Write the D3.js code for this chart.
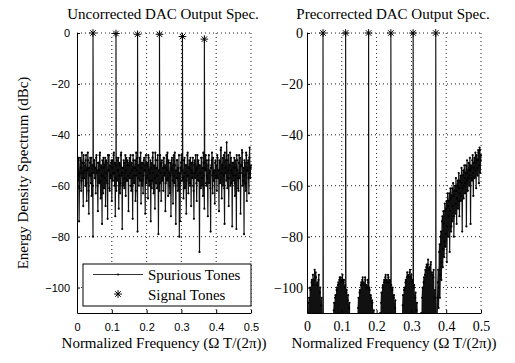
<!DOCTYPE html>
<html><head><meta charset="utf-8">
<script src="https://cdn.jsdelivr.net/npm/d3@7"></script>
<style>body{margin:0;background:#fff}</style>
</head><body><svg id="c" width="515" height="363"></svg>
<script>
// ---------- data ----------
const xTicks = [0, 0.1, 0.2, 0.3, 0.4, 0.5];
const yTicks = [0, -20, -40, -60, -80, -100];
const evenFreqs = d3.range(251).map(i => i / 500);          // 0, 0.002, ... 0.5
const oddFreqs = d3.range(250).map(i => (2 * i + 1) / 1000); // 0.001, 0.003, ... 0.499

// Uncorrected spectrum (dBc), even bins
const leftSpurEven = [
 -52,-58,-49,-74,-55,-50,-62,-47,-57,-68,-51,-54,-60,-48,-66,-53,-50,-71,-56,-49,-59,-64,-52,-80,-55,
 -50,-57,-63,-48,-54,-70,-51,-59,-47,-65,-53,-75,-56,-49,-61,-52,-68,-50,-58,-73,-54,-48,-62,-57,-51,
 -66,-50,-55,-47,-60,-72,-52,-49,-58,-54,-69,-51,-63,-48,-56,-77,-53,-50,-61,-55,-64,-49,-58,-52,-70,
 -51,-57,-48,-62,-54,-73,-50,-59,-53,-66,-47,-56,-78,-52,-60,-49,-55,-67,-51,-58,-63,-50,-54,-71,-48,
 -57,-52,-65,-49,-60,-55,-74,-51,-58,-47,-63,-53,-69,-50,-56,-61,-48,-79,-54,-59,-52,-66,-50,-57,-62,
 -49,-55,-70,-53,-58,-47,-64,-51,-60,-56,-72,-50,-54,-67,-48,-59,-52,-75,-57,-50,-62,-55,-80,-74,-53,
 -48,-58,-54,-65,-50,-61,-52,-71,-56,-47,-63,-53,-59,-49,-68,-55,-51,-60,-73,-50,-57,-54,-66,-48,-58,
 -52,-86,-55,-61,-49,-57,-64,-51,-69,-53,-48,-60,-56,-72,-50,-59,-54,-78,-52,-47,-63,-55,-58,-67,-50,
 -56,-62,-49,-54,-70,-51,-58,-45,-65,-53,-60,-48,-75,-55,-50,-43,-61,-57,-68,-52,-47,-59,-54,-76,-51,
 -58,-49,-64,-53,-77,-50,-57,-62,-48,-55,-71,-52,-46,-60,-56,-79,-51,-59,-47,-66,-54,-50,-63,-45,-57,-52
];
// Uncorrected spectrum (dBc), odd bins
const leftSpurOdd = [
 -54,-50,-56,-61,-49,-53,-58,-51,-55,-48,-57,-52,-50,-59,-54,-47,-62,-53,-51,-56,-49,-55,-60,-52,-50,
 -57,-53,-49,-55,-60,-51,-54,-48,-58,-52,-56,-50,-63,-53,-57,-49,-55,-51,-59,-48,-54,-61,-52,-56,-50,
 -53,-58,-48,-55,-51,-57,-62,-50,-54,-49,-56,-52,-59,-47,-55,-53,-60,-51,-57,-48,-54,-58,-50,-56,-52,
 -49,-55,-60,-51,-57,-48,-53,-56,-50,-62,-54,-49,-57,-52,-55,-58,-47,-53,-60,-51,-56,-49,-54,-52,-59,
 -51,-56,-48,-54,-58,-50,-53,-61,-49,-55,-52,-57,-47,-59,-53,-50,-56,-54,-62,-48,-55,-51,-58,-53,-49,
 -56,-52,-59,-48,-54,-57,-50,-55,-63,-51,-53,-49,-58,-52,-56,-47,-60,-54,-50,-57,-53,-48,-55,-59,-51,
 -54,-50,-57,-61,-49,-55,-52,-58,-48,-56,-53,-50,-60,-54,-51,-57,-49,-62,-52,-55,-48,-59,-53,-56,-50,
 -58,-52,-55,-49,-60,-53,-47,-56,-51,-54,-59,-50,-57,-52,-48,-55,-61,-53,-50,-56,-49,-58,-54,-51,-57,
 -52,-48,-57,-54,-50,-59,-46,-55,-52,-49,-56,-61,-47,-53,-58,-50,-54,-48,-57,-52,-60,-49,-55,-51,-56,
 -53,-59,-50,-56,-48,-54,-61,-51,-57,-49,-55,-52,-47,-58,-53,-50,-56,-62,-48,-54,-51,-57,-49,-55,-53
];

// Precorrected spectrum (dBc), even bins (values below -110 fall under the axis)
const rightSpurEven = [
 -125,
 -110,-116,-104,-118,-101,-115,-97,-119,-99,-114,-93,-117,-96,-115,-98,-120,-95,-116,-100,-118,-104,-114,
 -125,-125,-125,-125,-125,-125,-125,-125,-125,-125,-125,-125,-125,-125,
 -112,-117,-106,-115,-103,-119,-100,-114,-98,-118,-96,-116,-98,-115,-95,-119,-97,-114,-99,-117,-101,-116,-103,-118,-106,-115,-111,
 -125,-125,-125,-125,-125,-125,-125,-125,
 -111,-116,-104,-118,-101,-114,-98,-117,-96,-115,-99,-119,-97,-116,-100,-114,-98,-118,-101,-115,-104,-117,-106,-114,-109,-116,
 -125,-125,-125,-125,-125,-125,-125,
 -110,-116,-102,-118,-99,-114,-97,-117,-95,-115,-98,-119,-96,-116,-97,-114,-99,-118,-100,-115,-103,-117,-105,-114,-111,
 -125,-125,-125,-125,-125,-125,
 -111,-117,-103,-115,-100,-118,-97,-114,-94,-116,-96,-119,-93,-115,-95,-117,-97,-114,-99,-118,-102,-116,-106,-113,
 -125,-125,-125,-125,
 -110,-116,-100,-118,-96,-114,-93,-117,-91,-115,-89,-119,-92,-116,-90,-114,-95,-117,-93,-115,-101,-112,
 -125,
 -112,-98,-108,-86,-104,-80,-97,-74,-92,-70,-88,-67,-84,-69,-90,-63,-80,-66,-86,-61,-78,-64,-74,-59,-80,
 -62,-71,-57,-75,-60,-69,-55,-72,-58,-66,-53,-78,-56,-65,-52,-63,-55,-76,-50,-62,-54,-60,-49,-75,-53,
 -58,-48,-64,-51,-57,-47,-61,-50,-56,-46,-59,-45,-55,-48
];
// Precorrected spectrum (dBc), odd bins
const rightSpurOdd = [
 -125,
 -113,-106,-116,-100,-114,-98,-117,-95,-115,-97,-118,-94,-116,-99,-114,-97,-119,-102,-115,-107,-117,
 -125,-125,-125,-125,-125,-125,-125,-125,-125,-125,-125,-125,-125,-125,-125,
 -115,-109,-118,-104,-116,-101,-117,-99,-114,-97,-119,-96,-115,-97,-118,-98,-116,-100,-114,-102,-117,-105,-115,-108,-118,-113,
 -125,-125,-125,-125,-125,-125,-125,-125,-125,
 -114,-108,-117,-102,-115,-99,-118,-97,-116,-98,-114,-96,-117,-99,-115,-97,-119,-100,-116,-103,-114,-105,-118,-111,-115,
 -125,-125,-125,-125,-125,-125,-125,-125,
 -114,-106,-117,-100,-115,-98,-118,-96,-116,-97,-114,-95,-117,-98,-115,-100,-119,-101,-116,-104,-114,-108,-117,-113,
 -125,-125,-125,-125,-125,-125,-125,
 -114,-107,-116,-101,-118,-98,-115,-96,-117,-95,-114,-94,-116,-96,-118,-98,-115,-100,-117,-104,-114,-109,-116,
 -125,-125,-125,-125,-125,
 -113,-104,-117,-98,-115,-95,-118,-92,-116,-91,-114,-93,-117,-91,-115,-94,-118,-96,-116,-104,-114,
 -125,-125,
 -104,-93,-100,-83,-95,-78,-90,-72,-85,-75,-82,-70,-79,
 -66,-76,-68,-72,-63,-70,-65,-76,-61,-68,-64,-72,-60,
 -67,-62,-65,-58,-66,-61,-63,-56,-64,-59,-61,-54,-60,
 -57,-59,-52,-58,-55,-57,-51,-56,-54,-52,-57,-50,-55,
 -53,-49,-54,-51,-48,-53,-50,-47,-52,-46,-50
];

const leftToneFreqs = [0.046, 0.112, 0.174, 0.237, 0.303, 0.366];
const leftToneLevels = [0, -0.2, -0.5, -0.5, -1.4, -2.4];
const rightToneFreqs = [0.046, 0.111, 0.177, 0.241, 0.305, 0.370];
const rightToneLevels = [0, 0, 0, 0, 0, 0];

const panelTitles = ["Uncorrected DAC Output Spec.", "Precorrected DAC Output Spec."];
const xLabel = "Normalized Frequency (\u03A9 T/(2\u03C0))";
const yLabel = "Energy Density Spectrum (dBc)";
const legendLabels = ["Spurious Tones", "Signal Tones"];

// ---------- drawing ----------
const svg = d3.select("#c");
const serif = "'Liberation Serif','Times New Roman',serif";
const sans = "'Liberation Sans',Arial,Helvetica,sans-serif";
const yScale = d3.scaleLinear().domain([-110, 0]).range([313, 33]);

function starPath(cx, cy, r) {
  const d = r * 0.72;
  return `M${cx-r},${cy}L${cx+r},${cy}M${cx},${cy-r}L${cx},${cy+r}` +
         `M${cx-d},${cy-d}L${cx+d},${cy+d}M${cx-d},${cy+d}L${cx+d},${cy-d}`;
}

const panels = [
  {x0: 77, x1: 251, even: leftSpurEven, odd: leftSpurOdd, tf: leftToneFreqs, tl: leftToneLevels,
   title: panelTitles[0], tickFont: sans, tickSize: 11, yPad: 7, legend: true},
  {x0: 307, x1: 481, even: rightSpurEven, odd: rightSpurOdd, tf: rightToneFreqs, tl: rightToneLevels,
   title: panelTitles[1], tickFont: serif, tickSize: 14, yPad: 4, legend: false}
];

panels.forEach((p, pi) => {
  const x = d3.scaleLinear().domain([0, 0.5]).range([p.x0, p.x1]);
  const y = yScale;
  const g = svg.append("g");

  // grid
  g.append("g").selectAll("line").data(xTicks.filter(t => t > 0)).join("line")
    .attr("x1", d => x(d)).attr("x2", d => x(d)).attr("y1", y(0)).attr("y2", y(-110))
    .attr("stroke", "#222").attr("stroke-width", 1).attr("stroke-dasharray", "1,3");
  g.append("g").selectAll("line").data(yTicks).join("line")
    .attr("x1", p.x0).attr("x2", p.x1).attr("y1", d => y(d)).attr("y2", d => y(d))
    .attr("stroke", "#222").attr("stroke-width", 1).attr("stroke-dasharray", "1,3");

  // clip
  const cid = "clip" + pi;
  svg.append("clipPath").attr("id", cid).append("rect")
    .attr("x", p.x0).attr("y", 28).attr("width", p.x1 - p.x0 + 2).attr("height", 313 - 28);

  // merged spectrum: spurious bins + signal tones
  const pts = evenFreqs.map((f, i) => ({f, v: p.even[i]}))
    .concat(oddFreqs.map((f, i) => ({f, v: p.odd[i]})))
    .concat(p.tf.map((f, i) => ({f, v: p.tl[i]})))
    .sort((a, b) => a.f - b.f);
  const line = d3.line().x(d => x(d.f)).y(d => y(d.v));
  const sg = g.append("g").attr("clip-path", `url(#${cid})`);
  sg.append("path").datum(pts).attr("d", line)
    .attr("fill", "none").attr("stroke", "#111").attr("stroke-width", 1.15);
  sg.append("g").selectAll("circle").data(pts.filter(d => d.v > -112 && d.v < -5)).join("circle")
    .attr("cx", d => x(d.f)).attr("cy", d => y(d.v)).attr("r", 1.1).attr("fill", "#000");

  // signal tone stars
  g.append("g").selectAll("path").data(p.tf.map((f, i) => ({f, v: p.tl[i]}))).join("path")
    .attr("d", d => starPath(x(d.f), y(d.v), 3.8))
    .attr("stroke", "#000").attr("stroke-width", 1).attr("fill", "none");

  // axes
  const ax = g.append("g").attr("transform", `translate(${p.x0},0)`)
    .call(d3.axisLeft(y).tickValues(yTicks).tickSizeInner(-3).tickSizeOuter(0).tickPadding(p.yPad)
      .tickFormat(d3.format("d")));
  const bx = g.append("g").attr("transform", `translate(0,313)`)
    .call(d3.axisBottom(x).tickValues(xTicks).tickSizeInner(-3).tickSizeOuter(0)
      .tickFormat(d => d === 0 ? "0" : d3.format(".1f")(d)));
  [ax, bx].forEach(a => {
    a.select(".domain").attr("stroke", "#000");
    a.selectAll(".tick line").attr("stroke", "#000");
    a.selectAll("text").attr("fill", "#000").attr("font-family", p.tickFont).attr("font-size", p.tickSize);
  });
  bx.selectAll("text").attr("y", 18).attr("dy", 0);

  // title & x label
  g.append("text").attr("x", (p.x0 + p.x1) / 2 - 1).attr("y", 19).attr("text-anchor", "middle")
    .attr("font-family", serif).attr("font-size", 15).text(p.title);
  g.append("text").attr("x", (p.x0 + p.x1) / 2).attr("y", 348).attr("text-anchor", "middle")
    .attr("font-family", serif).attr("font-size", 15).text(xLabel);

  // legend
  if (p.legend) {
    const lg = g.append("g");
    lg.append("rect").attr("x", 83).attr("y", 264).attr("width", 168).attr("height", 42)
      .attr("fill", "#fff").attr("stroke", "#000").attr("stroke-width", 1);
    lg.append("line").attr("x1", 93).attr("x2", 143).attr("y1", 274.5).attr("y2", 274.5)
      .attr("stroke", "#000").attr("stroke-width", 0.8);
    lg.append("circle").attr("cx", 118).attr("cy", 274.5).attr("r", 1).attr("fill", "#000");
    lg.append("path").attr("d", starPath(118, 294, 3.8)).attr("stroke", "#000").attr("fill", "none");
    lg.selectAll("text").data(legendLabels).join("text")
      .attr("x", 148).attr("y", (d, i) => 280 + i * 19.5)
      .attr("font-family", serif).attr("font-size", 15).text(d => d);
  }
});

// y label
svg.append("text").attr("transform", "translate(28,173) rotate(-90)")
  .attr("text-anchor", "middle").attr("font-family", serif).attr("font-size", 15).text(yLabel);
</script>
</body></html>
